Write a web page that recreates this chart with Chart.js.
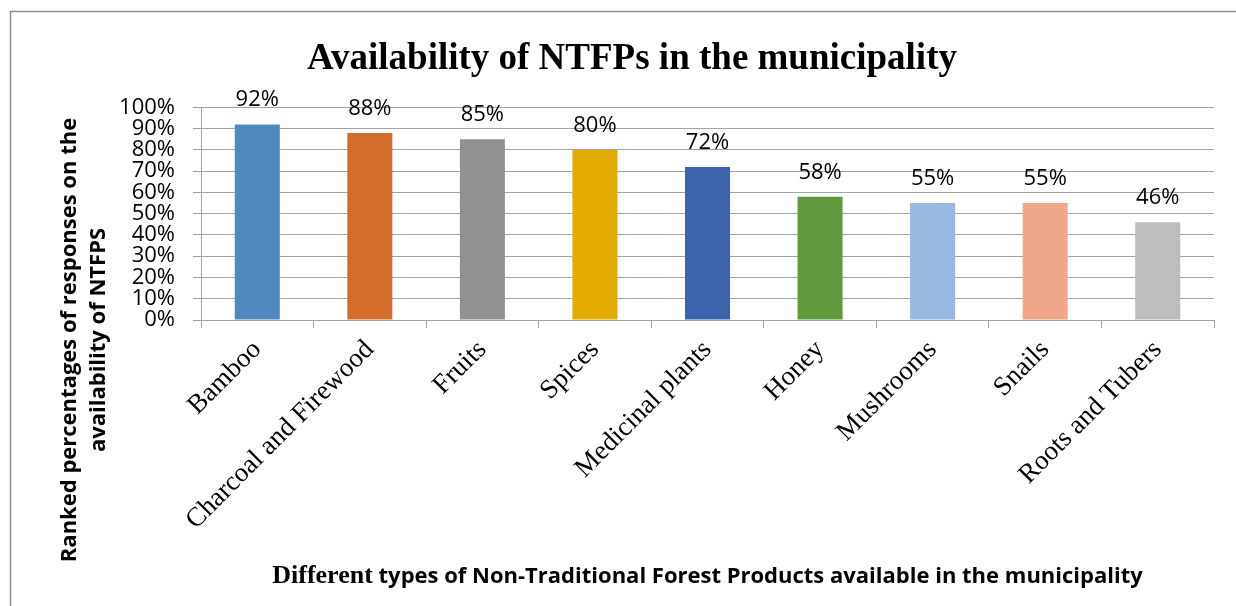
<!DOCTYPE html>
<html>
<head>
<meta charset="utf-8">
<title>Availability of NTFPs in the municipality</title>
<script src="https://cdn.jsdelivr.net/npm/chart.js@4.4.1/dist/chart.umd.min.js"></script>
<style>
  html, body { margin: 0; padding: 0; background: #fff; }
  #wrap { width: 1236px; height: 606px; position: relative; }
</style>
</head>
<body>
<div id="wrap"><canvas id="myChart" width="1236" height="606"></canvas></div>
<script>
// data
const categories = ['Bamboo', 'Charcoal and Firewood', 'Fruits', 'Spices', 'Medicinal plants',
                    'Honey', 'Mushrooms', 'Snails', 'Roots and Tubers'];
const availability = [0.92, 0.88, 0.85, 0.80, 0.72, 0.58, 0.55, 0.55, 0.46];
const barColors = ['#4F88BE', '#D46D2C', '#929292', '#E3AA00', '#3C63AC',
                   '#5F9B3E', '#97B8DF', '#F0A78A', '#BDBDBD'];
const yTicks = [0, 0.1, 0.2, 0.3, 0.4, 0.5, 0.6, 0.7, 0.8, 0.9, 1.0];

const yTitleLines = ['Ranked percentages of responses on the', 'availability of NTFPS'];
const xTitleSerif = 'Different';
const xTitleSans = ' types of Non-Traditional Forest Products available in the municipality';

const pct = v => Math.round(v * 100) + '%';
const gridGray = '#a3a3a3';
const sans = '"Open Sans", sans-serif';
const serif = '"Liberation Serif", "Times New Roman", serif';

// frame round the chart (left and top edges are visible in the reference)
const framePlugin = {
  id: 'frame',
  beforeDraw(chart) {
    const c = chart.ctx;
    c.save();
    c.strokeStyle = '#8f8f8f';
    c.lineWidth = 1.5;
    c.beginPath();
    c.moveTo(10.5, 606);
    c.lineTo(10.5, 11.5);
    c.lineTo(1236, 11.5);
    c.stroke();
    c.restore();
  }
};

// value labels above each bar
const valueLabels = {
  id: 'valueLabels',
  afterDatasetsDraw(chart) {
    const c = chart.ctx;
    const meta = chart.getDatasetMeta(0);
    c.save();
    c.font = '22px ' + sans;
    c.fillStyle = '#000';
    c.textAlign = 'center';
    c.textBaseline = 'alphabetic';
    meta.data.forEach((bar, i) => {
      c.fillText(pct(chart.data.datasets[0].data[i]), bar.x, bar.y - 18);
    });
    c.restore();
  }
};

// axis titles: the y title sits lower than the plot centre and the x title mixes two fonts
const axisTitles = {
  id: 'axisTitles',
  afterDraw(chart) {
    const c = chart.ctx;
    c.save();
    c.fillStyle = '#000';

    // y title, two rotated lines
    c.font = 'bold 22px ' + sans;
    c.textAlign = 'center';
    c.textBaseline = 'alphabetic';
    c.translate(0, 340);
    c.rotate(-Math.PI / 2);
    c.fillText(yTitleLines[0], 0, 76);
    c.fillText(yTitleLines[1], 0, 105);
    c.setTransform(1, 0, 0, 1, 0, 0);

    // x title
    const cx = (chart.chartArea.left + chart.chartArea.right) / 2;
    c.textAlign = 'left';
    c.font = 'bold 26px ' + serif;
    const w1 = c.measureText(xTitleSerif).width;
    c.font = 'bold 22px ' + sans;
    const w2 = c.measureText(xTitleSans).width;
    const x0 = cx - (w1 + w2) / 2;
    c.font = 'bold 26px ' + serif;
    c.fillText(xTitleSerif, x0, 583);
    c.font = 'bold 22px ' + sans;
    c.fillText(xTitleSans, x0 + w1, 583);
    c.restore();
  }
};

const ctx = document.getElementById('myChart').getContext('2d');
let myChart = new Chart(ctx, {
  type: 'bar',
  data: {
    labels: categories,
    datasets: [{
      data: availability,
      backgroundColor: barColors,
      borderWidth: 0,
      barPercentage: 0.4,
      categoryPercentage: 1.0
    }]
  },
  options: {
    responsive: false,
    animation: false,
    layout: { padding: { left: 50, right: 22, top: 0, bottom: 0 } },
    plugins: {
      legend: { display: false },
      tooltip: { enabled: false },
      title: {
        display: true,
        text: 'Availability of NTFPs in the municipality',
        color: '#000',
        font: { family: serif, size: 37, weight: 'bold', lineHeight: 1.2 },
        padding: { top: 37, bottom: 26 }
      }
    },
    scales: {
      x: {
        offset: true,
        grid: { drawOnChartArea: false, drawTicks: true, tickLength: 8, offset: true, color: gridGray },
        border: { display: true, color: gridGray },
        ticks: {
          minRotation: 45,
          maxRotation: 45,
          autoSkip: false,
          padding: 6,
          color: '#000',
          font: { family: serif, size: 27 }
        },
        afterFit: scale => { scale.height = 286; }
      },
      y: {
        min: 0,
        max: 1,
        grid: { color: gridGray, tickLength: 8, drawTicks: true },
        border: { display: true, color: gridGray },
        afterBuildTicks: scale => { scale.ticks = yTicks.map(v => ({ value: v })); },
        ticks: {
          autoSkip: false,
          padding: 18,
          color: '#000',
          font: { family: sans, size: 22 },
          callback: value => pct(value)
        },
        afterFit: scale => { scale.width = 151; }
      }
    }
  },
  plugins: [framePlugin, valueLabels, axisTitles]
});
</script>
</body>
</html>
